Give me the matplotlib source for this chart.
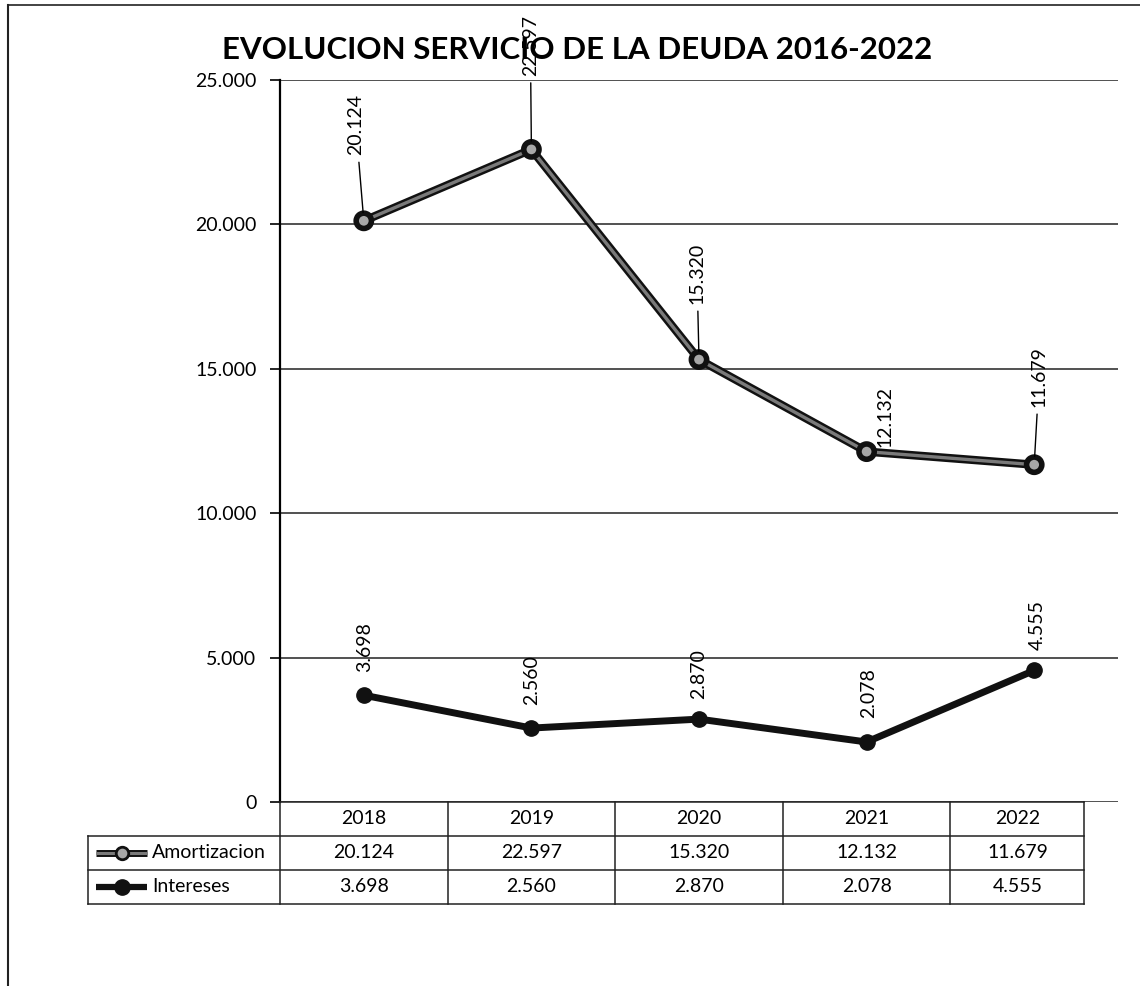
import matplotlib
matplotlib.use("Agg")
import matplotlib.pyplot as plt
import matplotlib.patheffects as pe
from matplotlib.lines import Line2D
from matplotlib.ticker import FuncFormatter
from matplotlib import transforms

# Datos del grafico
anios = ["2018", "2019", "2020", "2021", "2022"]
amortizacion = [20124, 22597, 15320, 12132, 11679]
intereses = [3698, 2560, 2870, 2078, 4555]
series_nombres = ["Amortizacion", "Intereses"]
titulo = "EVOLUCION SERVICIO DE LA DEUDA 2016-2022"

# desplazamiento de las etiquetas (pixeles) respecto al punto
desp_amort = [(-8, 96), (-1, 104), (-2, 86), (18, 35), (5, 88)]
desp_inter = [(1, 48), (0, 48), (0, 45), (2, 49), (3, 45)]
guia_amort = [True, True, True, False, True]

W, H = 1140, 986
FUENTE = "Lato"
plt.rcParams["font.family"] = [FUENTE, "DejaVu Sans"]


def fmt_miles(v, pos=None):
    return f"{int(round(v)):,}".replace(",", ".")


def fx(x):
    return x / W


def fy(y):
    return 1 - y / H


fig = plt.figure(figsize=(W / 100, H / 100), dpi=100)
ax = fig.add_axes([fx(280), fy(802), fx(1118) - fx(280), fy(80) - fy(802)])

x = list(range(len(anios)))
gris = "#7a7a7a"

# Amortizacion: linea gris con borde negro
ax.plot(x, amortizacion, color=gris, lw=2.4, zorder=3,
        path_effects=[pe.Stroke(linewidth=6, foreground="#111111"), pe.Normal()],
        marker="o", markersize=9, markerfacecolor="#a8a8a8",
        markeredgecolor="#111111", markeredgewidth=2)
# Intereses: linea negra
ax.plot(x, intereses, color="#111111", lw=5, zorder=3,
        marker="o", markersize=11, markerfacecolor="#111111",
        markeredgecolor="#111111")

# etiquetas de datos
for i, v in enumerate(amortizacion):
    props = None
    if guia_amort[i]:
        props = dict(arrowstyle="-", color="black", lw=1, shrinkA=3, shrinkB=6)
    ax.annotate(fmt_miles(v), (x[i], v), xytext=desp_amort[i],
                textcoords="offset pixels", rotation=90, ha="center",
                va="center", fontsize=14, arrowprops=props, zorder=5,
                annotation_clip=False)
for i, v in enumerate(intereses):
    ax.annotate(fmt_miles(v), (x[i], v), xytext=desp_inter[i],
                textcoords="offset pixels", rotation=90, ha="center",
                va="center", fontsize=14, zorder=5)

ax.set_xlim(-0.5, len(anios) - 0.5)
ax.set_ylim(0, 25000)
ax.set_yticks(range(0, 25001, 5000))
ax.yaxis.set_major_formatter(FuncFormatter(fmt_miles))
ax.tick_params(axis="y", labelsize=14, length=7, width=1.2, pad=10, colors="black")
ax.set_xticks([])
ax.grid(axis="y", color="#222222", lw=1.1)
ax.set_axisbelow(True)
for s in ["top", "right", "bottom"]:
    ax.spines[s].set_visible(False)
ax.spines["left"].set_linewidth(1.6)

# titulo
fig.text(fx(577), fy(50), titulo, ha="center", va="center",
         fontsize=22.5, fontweight="bold")

# tabla de datos bajo el eje
bt = transforms.blended_transform_factory(ax.transData, fig.transFigure)
borde_der = 4.30
filas_y = [802, 836, 870, 904]
lw_t = 1.1
# lineas horizontales
for j, yy in enumerate(filas_y):
    x0 = -0.5 if j == 0 else -0.5 - (280 - 88) / 167.6
    fig.add_artist(Line2D([x0, borde_der], [fy(yy), fy(yy)], transform=bt,
                          color="#222222", lw=lw_t))
# lineas verticales
for i in range(len(anios)):
    fig.add_artist(Line2D([i - 0.5, i - 0.5], [fy(802), fy(904)], transform=bt,
                          color="#222222", lw=lw_t))
fig.add_artist(Line2D([borde_der, borde_der], [fy(802), fy(904)], transform=bt,
                      color="#222222", lw=lw_t))
fig.add_artist(Line2D([fx(88), fx(88)], [fy(836), fy(904)],
                      transform=fig.transFigure, color="#222222", lw=lw_t))

centros = [i for i in range(len(anios) - 1)] + [(len(anios) - 1.5 + borde_der) / 2]
for i, a in enumerate(anios):
    fig.text(centros[i], fy(819), a, transform=bt, ha="center", va="center",
             fontsize=14)
    fig.text(centros[i], fy(853), fmt_miles(amortizacion[i]), transform=bt,
             ha="center", va="center", fontsize=14)
    fig.text(centros[i], fy(887), fmt_miles(intereses[i]), transform=bt,
             ha="center", va="center", fontsize=14)

# claves de leyenda en la tabla
fig.add_artist(Line2D([fx(96), fx(147)], [fy(853), fy(853)],
                      transform=fig.transFigure, color=gris, lw=2.2,
                      solid_capstyle="butt",
                      path_effects=[pe.Stroke(linewidth=5, foreground="#111111"), pe.Normal()]))
fig.add_artist(Line2D([fx(122)], [fy(853)], transform=fig.transFigure,
                      marker="o", markersize=9, markerfacecolor="#a8a8a8",
                      markeredgecolor="#111111", markeredgewidth=2))
fig.add_artist(Line2D([fx(96), fx(147)], [fy(887), fy(887)],
                      transform=fig.transFigure, color="#111111", lw=4.5,
                      solid_capstyle="butt"))
fig.add_artist(Line2D([fx(122)], [fy(887)], transform=fig.transFigure,
                      marker="o", markersize=11, color="#111111"))
fig.text(fx(152), fy(853), series_nombres[0], ha="left", va="center", fontsize=14)
fig.text(fx(152), fy(887), series_nombres[1], ha="left", va="center", fontsize=14)

# marco exterior
fig.add_artist(Line2D([fx(8), fx(8)], [fy(5), 0], transform=fig.transFigure,
                      color="#222222", lw=1.5))
fig.add_artist(Line2D([fx(8), 1], [fy(5), fy(5)], transform=fig.transFigure,
                      color="#222222", lw=1.2))

fig.savefig("out.png", dpi=100)
